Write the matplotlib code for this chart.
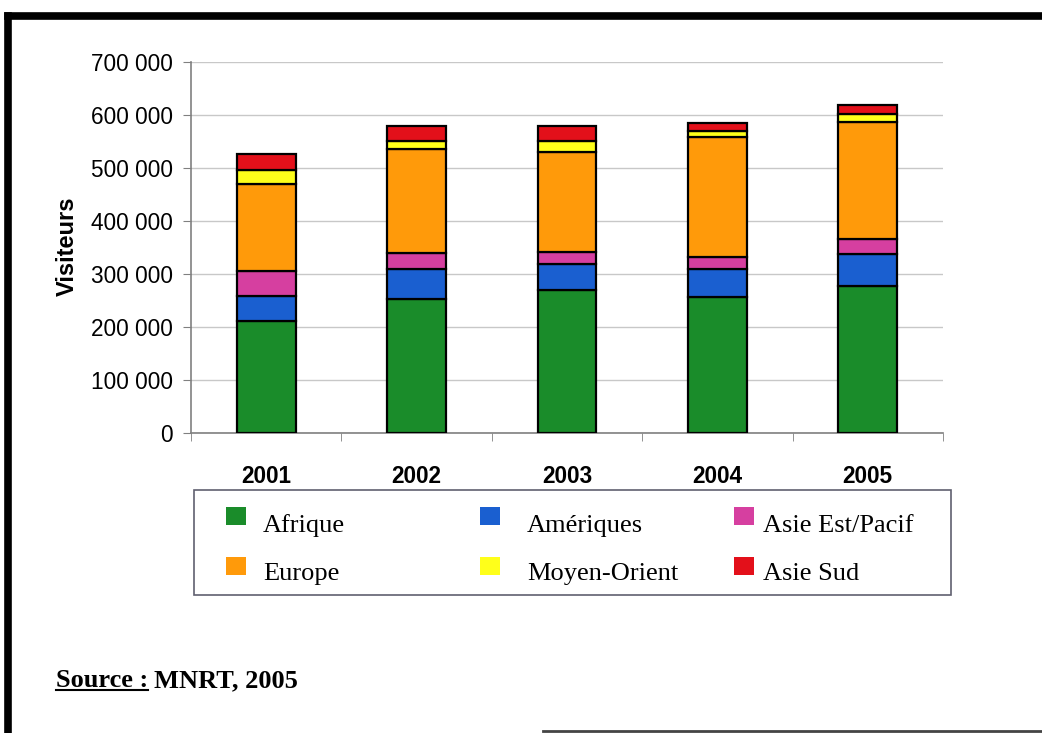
import matplotlib.pyplot as plt
import matplotlib.patches as mpatches
from matplotlib.lines import Line2D
from matplotlib.ticker import FuncFormatter, FixedLocator
import numpy as np

# --- Données (visiteurs, lecture du graphique) ---
years = ["2001", "2002", "2003", "2004", "2005"]
afrique = [211000, 253000, 269000, 256000, 277000]
ameriques = [47000, 57000, 50000, 53000, 61000]
asie_est = [47000, 30000, 22000, 24000, 28000]
europe = [164000, 195000, 190000, 226000, 221000]
moyen_orient = [27000, 16000, 20000, 10000, 14000]
asie_sud = [30000, 29000, 28000, 15000, 17000]

series = [
    ("Afrique", afrique, "#1a8c2a"),
    ("Amériques", ameriques, "#1a5fd0"),
    ("Asie Est/Pacif", asie_est, "#d63fa0"),
    ("Europe", europe, "#ff9a0a"),
    ("Moyen-Orient", moyen_orient, "#ffff1a"),
    ("Asie Sud", asie_sud, "#e3101a"),
]

W, H = 1042, 733
fig = plt.figure(figsize=(W / 100, H / 100), dpi=100)

def fx(px):
    return px / W

def fy(py):
    return 1 - py / H

ax = fig.add_axes([fx(191), fy(433), 752 / W, 371 / H])

x = np.arange(len(years))
bottom = np.zeros(len(years))
for name, vals, col in series:
    ax.bar(x, vals, width=0.39, bottom=bottom, color=col,
           edgecolor="black", linewidth=1.6, zorder=3)
    bottom += np.array(vals)

ax.set_xlim(-0.5, len(years) - 0.5)
ax.set_ylim(0, 700000)
ax.set_yticks(np.arange(0, 700001, 100000))
ax.yaxis.set_major_formatter(FuncFormatter(lambda v, p: f"{int(v):,}".replace(",", " ")))
ax.grid(axis="y", color="#c8c8c8", linewidth=1, zorder=0)

ax.set_xticks(x)
ax.set_xticklabels(years, fontsize=16.3, fontweight="bold", family="Liberation Sans")
ax.xaxis.set_minor_locator(FixedLocator(np.arange(-0.5, len(years), 1)))
ax.tick_params(axis="x", which="major", length=0, pad=23)
ax.tick_params(axis="x", which="minor", length=6, color="#808080", direction="out")
ax.tick_params(axis="y", length=6, color="#808080", labelsize=16.3, pad=7)
for lab in ax.get_yticklabels():
    lab.set_family("Liberation Sans")

for s in ["top", "right"]:
    ax.spines[s].set_visible(False)
for s in ["left", "bottom"]:
    ax.spines[s].set_color("#808080")
    ax.spines[s].set_linewidth(1.2)

fig.text(fx(67), fy(246), "Visiteurs", rotation=90, ha="center", va="center",
         fontsize=17, fontweight="bold", family="Liberation Sans")

# --- Légende (cadre + carrés de couleur) ---
fig.add_artist(mpatches.Rectangle((fx(194), fy(595)), 757 / W, 105 / H,
                                  transform=fig.transFigure, facecolor="white",
                                  edgecolor="#606070", linewidth=1.2))
col_marker = [226, 480, 734]
col_text = [263, 527, 763]
row_marker = [507, 557]
row_base = [532, 580]
grid_pos = [(0, 0), (1, 0), (2, 0), (0, 1), (1, 1), (2, 1)]
for (name, vals, col), (c, r) in zip(series, grid_pos):
    fig.add_artist(mpatches.Rectangle((fx(col_marker[c]), fy(row_marker[r] + 18)),
                                      20 / W, 18 / H, transform=fig.transFigure,
                                      facecolor=col, edgecolor="none"))
    fig.text(fx(col_text[c]), fy(row_base[r]), name, fontsize=19,
             family="Liberation Serif", ha="left", va="baseline")

# --- Source ---
t1 = fig.text(fx(56), fy(687), "Source :", fontsize=19, fontweight="bold",
              family="Liberation Serif", ha="left", va="baseline")
fig.canvas.draw()
bb = t1.get_window_extent()
y_line = (H - 690) / H
fig.add_artist(Line2D([bb.x0 / W, bb.x1 / W], [y_line, y_line],
                      color="black", linewidth=1.5, transform=fig.transFigure))
fig.text((bb.x1 + 6) / W, fy(687), "MNRT, 2005", fontsize=19, fontweight="bold",
         family="Liberation Serif", ha="left", va="baseline")

# --- Cadre ---
fig.add_artist(Line2D([fx(8), 1.0], [fy(16), fy(16)], color="black",
                      linewidth=5.5, transform=fig.transFigure, solid_capstyle="projecting"))
fig.add_artist(Line2D([fx(8), fx(8)], [fy(16), 0], color="black",
                      linewidth=5.5, transform=fig.transFigure))
fig.add_artist(Line2D([fx(543), 1.0], [fy(731), fy(731)], color="#444444",
                      linewidth=2, transform=fig.transFigure))

fig.savefig("out.png", dpi=100)
